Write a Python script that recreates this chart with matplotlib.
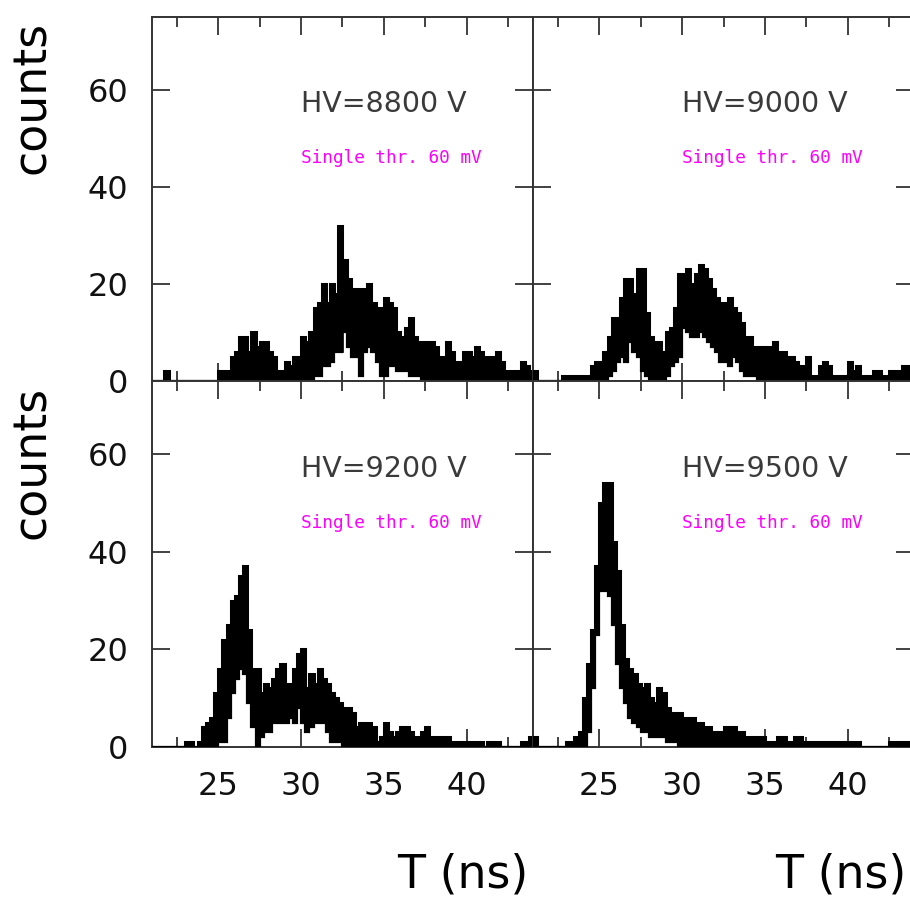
import numpy as np
import matplotlib
matplotlib.use("Agg")
import matplotlib.pyplot as plt
from matplotlib.ticker import MultipleLocator

# ---------------- data ----------------
t_start, t_stop, t_bin = 21.0, 44.0, 0.25   # ns, histogram binning

panel_labels = ["HV=8800 V", "HV=9000 V", "HV=9200 V", "HV=9500 V"]
thr_label = "Single thr. 60 mV"
x_ticks = [25, 30, 35, 40]
y_ticks = [0, 20, 40, 60]

# upper / lower envelope of the fine-binned time histograms (counts)
hv8800_hi = [0, 0, 0, 2, 0, 0, 0, 0, 0, 0,
             0, 0, 0, 0, 0, 0, 2, 2, 2, 5,
             6, 9, 9, 6, 10, 7, 8, 8, 6, 5,
             2, 2, 4, 3, 5, 5, 9, 8, 10, 15,
             16, 20, 16, 20, 18, 32, 25, 21, 19, 19,
             19, 19, 20, 16, 15, 15, 17, 16, 15, 10,
             9, 11, 13, 9, 8, 8, 8, 8, 7, 5,
             5, 8, 6, 4, 4, 6, 6, 5, 7, 6,
             5, 5, 5, 6, 4, 2, 2, 2, 2, 4,
             3, 2]
hv8800_lo = [0, 0, 0, 0, 0, 0, 0, 0, 0, 0,
             0, 0, 0, 0, 0, 0, 0, 0, 0, 0,
             0, 0, 0, 0, 0, 0, 0, 0, 0, 0,
             0, 0, 0, 0, 0, 0, 0, 0, 0, 1,
             1, 3, 3, 4, 6, 6, 10, 7, 5, 5,
             1, 6, 7, 6, 4, 1, 1, 3, 3, 2,
             2, 2, 1, 1, 1, 0, 0, 0, 0, 0,
             0, 0, 0, 0, 0, 0, 0, 0, 0, 0,
             0, 0, 0, 0, 0, 0, 0, 0, 0, 0,
             0, 0]

hv9000_hi = [2, 0, 0, 0, 0, 0, 0, 1, 1, 1,
             1, 1, 1, 1, 3, 4, 4, 6, 9, 13,
             13, 17, 21, 21, 18, 23, 23, 14, 9, 8,
             8, 6, 10, 11, 15, 22, 22, 23, 20, 22,
             24, 23, 21, 19, 17, 16, 16, 17, 15, 14,
             12, 9, 9, 7, 7, 7, 7, 7, 8, 6,
             6, 5, 5, 4, 3, 3, 5, 1, 1, 3,
             4, 3, 1, 1, 1, 1, 4, 2, 3, 1,
             1, 1, 2, 2, 1, 1, 2, 2, 2, 3,
             3, 2]
hv9000_lo = [0, 0, 0, 0, 0, 0, 0, 0, 0, 0,
             0, 0, 0, 0, 0, 0, 0, 0, 1, 2,
             4, 5, 4, 8, 6, 5, 2, 1, 0, 0,
             0, 0, 1, 3, 4, 5, 11, 10, 9, 9,
             10, 9, 8, 7, 6, 4, 4, 3, 5, 4,
             2, 1, 1, 1, 0, 0, 0, 0, 0, 0,
             0, 0, 0, 0, 0, 0, 0, 0, 0, 0,
             0, 0, 0, 0, 0, 0, 0, 0, 0, 0,
             0, 0, 0, 0, 0, 0, 0, 0, 0, 0,
             0, 0]

hv9200_hi = [0, 0, 0, 0, 0, 0, 0, 0, 1, 1,
             0, 1, 4, 5, 6, 11, 16, 22, 25, 30,
             31, 35, 37, 24, 16, 16, 11, 13, 12, 14,
             16, 17, 13, 13, 16, 19, 20, 12, 15, 13,
             16, 14, 13, 11, 10, 9, 8, 8, 7, 4,
             5, 5, 5, 4, 1, 2, 5, 3, 2, 3,
             4, 4, 3, 2, 2, 3, 4, 2, 2, 2,
             2, 2, 1, 1, 1, 1, 1, 1, 1, 1,
             0, 1, 1, 1, 0, 0, 0, 0, 0, 1,
             1, 2]
hv9200_lo = [0, 0, 0, 0, 0, 0, 0, 0, 0, 0,
             0, 0, 0, 0, 0, 0, 1, 1, 6, 11,
             14, 16, 15, 9, 4, 0, 2, 3, 3, 5,
             5, 5, 5, 6, 5, 8, 5, 3, 4, 5,
             5, 5, 3, 1, 1, 1, 0, 0, 0, 0,
             0, 0, 0, 0, 0, 0, 0, 0, 0, 0,
             0, 0, 0, 0, 0, 0, 0, 0, 0, 0,
             0, 0, 0, 0, 0, 0, 0, 0, 0, 0,
             0, 0, 0, 0, 0, 0, 0, 0, 0, 0,
             0, 0]

hv9500_hi = [2, 0, 0, 0, 0, 0, 0, 0, 1, 1,
             2, 3, 10, 17, 24, 37, 50, 54, 54, 42,
             36, 25, 18, 16, 15, 13, 12, 13, 10, 9,
             12, 11, 8, 7, 7, 7, 6, 6, 6, 5,
             5, 4, 4, 3, 3, 3, 4, 4, 4, 3,
             3, 2, 2, 2, 2, 2, 1, 1, 1, 2,
             2, 1, 1, 2, 2, 1, 1, 1, 1, 1,
             1, 1, 1, 1, 1, 1, 1, 1, 1, 0,
             0, 0, 0, 0, 0, 0, 1, 1, 1, 1,
             1, 1]
hv9500_lo = [0, 0, 0, 0, 0, 0, 0, 0, 0, 0,
             0, 0, 0, 3, 12, 23, 32, 32, 31, 25,
             17, 12, 9, 6, 5, 4, 3, 3, 2, 2,
             2, 2, 1, 1, 1, 0, 0, 0, 0, 0,
             0, 0, 0, 0, 0, 0, 0, 0, 0, 0,
             0, 0, 0, 0, 0, 0, 0, 0, 0, 0,
             0, 0, 0, 0, 0, 0, 0, 0, 0, 0,
             0, 0, 0, 0, 0, 0, 0, 0, 0, 0,
             0, 0, 0, 0, 0, 0, 0, 0, 0, 0,
             0, 0]

# ---------------- figure ----------------
W, H = 910, 898
fig = plt.figure(figsize=(W / 100, H / 100), dpi=100)
fig.patch.set_facecolor("white")

def rect(left, top, w, h):
    return [left / W, 1 - (top + h) / H, w / W, h / H]

rects = [rect(152, 17, 381, 364), rect(533, 17, 381, 364),
         rect(152, 381, 381, 366), rect(533, 381, 381, 366)]
his = [hv8800_hi, hv9000_hi, hv9200_hi, hv9500_hi]
los = [hv8800_lo, hv9000_lo, hv9200_lo, hv9500_lo]

edges = np.arange(t_start, t_stop + t_bin / 2, t_bin)
axcol = "#333333"

for i in range(4):
    ax = fig.add_axes(rects[i])
    hi = np.array(his[i], dtype=float)
    lo = np.array(los[i], dtype=float)
    ax.bar(edges[:-1], hi - lo, bottom=lo, width=t_bin, align="edge",
           color="black", edgecolor="black", linewidth=1.2, zorder=3)
    ax.stairs(hi, edges, baseline=None, color="black", linewidth=2.2, zorder=3)
    ax.stairs(lo, edges, baseline=None, color="black", linewidth=1.6, zorder=3)
    ax.set_xlim(t_start, t_stop)
    ax.set_ylim(0, 75)
    ax.xaxis.set_minor_locator(MultipleLocator(2.5))
    ax.set_xticks(x_ticks)
    ax.set_yticks(y_ticks)
    for s in ax.spines.values():
        s.set_color(axcol)
        s.set_linewidth(1.4)
    ax.tick_params(which="both", direction="in", top=True, right=True,
                   color=axcol, width=1.3)
    ax.tick_params(which="major", length=13)
    ax.tick_params(which="minor", length=7)
    ax.tick_params(axis="y", which="major", length=13, pad=17, labelsize=23)
    ax.tick_params(axis="x", which="major", pad=17, labelsize=23)
    ax.tick_params(labelleft=(i % 2 == 0), labelbottom=(i >= 2))
    for lab in ax.get_yticklabels() + ax.get_xticklabels():
        lab.set_family("DejaVu Sans")
        lab.set_color("#111111")
    ax.text(30, 57, panel_labels[i], fontsize=20.5, color="#3a3a3a",
            family="DejaVu Sans", ha="left", va="center", zorder=4)
    ax.text(30, 46, thr_label, fontsize=12.8, color="#ff00ff",
            family="DejaVu Sans Mono", ha="left", va="center", zorder=4)

# axis titles
for yc in (97, 462):
    fig.text(33 / W, 1 - yc / H, "counts", rotation=90, fontsize=33,
             family="DejaVu Sans", ha="center", va="center", color="black")
for xr in (528, 906):
    fig.text(xr / W, 1 - 887 / H, "T (ns)", fontsize=33,
             family="DejaVu Sans", ha="right", va="baseline", color="black")

fig.savefig("out.png", dpi=100)
